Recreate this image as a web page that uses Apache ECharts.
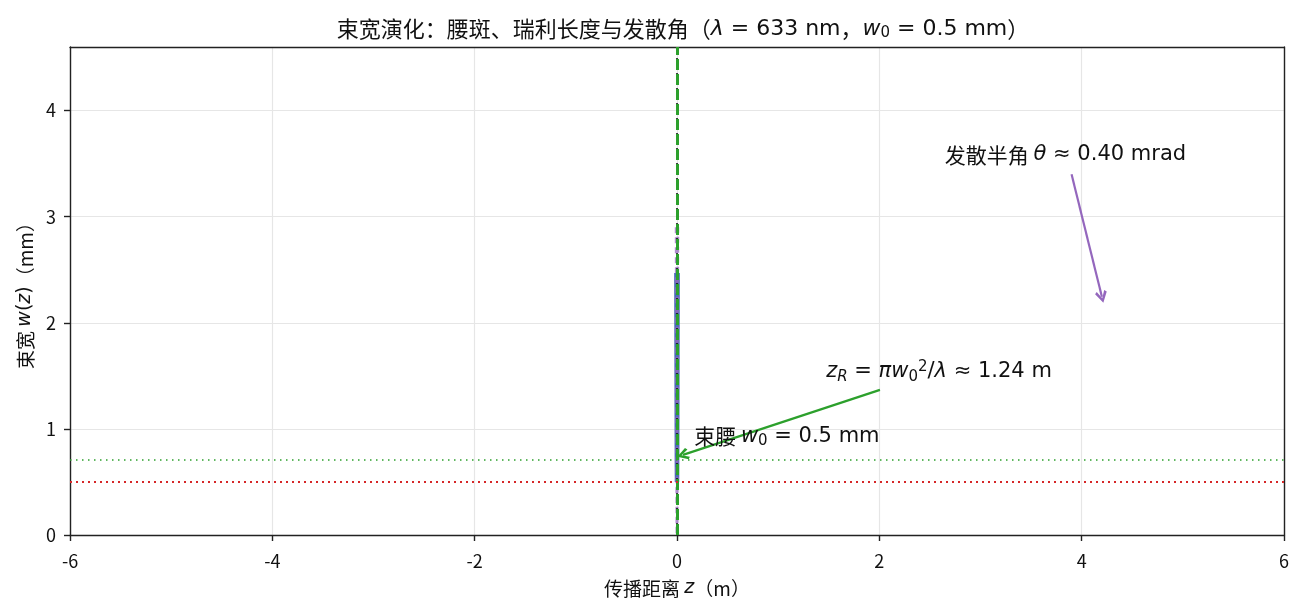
<!DOCTYPE html>
<html lang="zh">
<head>
    <meta charset="UTF-8">
    <title>束宽演化</title>
    <style>
        html, body { margin: 0; padding: 0; background: #fff; }
        #app { width: 1305px; height: 615px; }
    </style>
</head>
<body>
    <div id="app"></div>
    <script src="https://cdn.jsdelivr.net/npm/echarts@6/dist/echarts.min.js"></script>
    <script>
        // 束宽曲线 (z 轴数据实际挤在 0 附近)
        const zBeam = [-0.006, -0.005, -0.004, -0.003, -0.002, -0.001, 0, 0.001, 0.002, 0.003, 0.004, 0.005, 0.006];
        const wBeam = [2.47, 2.08, 1.69, 1.31, 0.95, 0.64, 0.50, 0.64, 0.95, 1.31, 1.69, 2.08, 2.47];
        // 远场渐近线
        const zAsym = [-0.0072, 0, 0.0072];
        const wAsym = [2.90, 0, 2.90];
        // 参考线
        const waistZ = 0;
        const rayleighZ = [-0.00124, 0.00124];
        const waistW = 0.5;
        const rayleighW = 0.707;
        const yTicks = [0, 1, 2, 3, 4];
        // 标注: [文字x, 文字y], 箭头 [起点, 终点]
        const waistLabelPos = [0.17, 0.93];
        const zrLabelPos = [2.59, 1.54];
        const zrArrow = [[2.006, 1.368], [0.059, 0.755]];
        const thetaLabelPos = [3.84, 3.585];
        const thetaArrow = [[3.90, 3.40], [4.20, 2.245]];

        const cjk = '"Noto Sans CJK SC", "Noto Sans", sans-serif';
        const mix = '"DejaVu Sans", "Noto Sans CJK SC", sans-serif';
        const ink = '#111';
        const annSize = 21;
        const nameSize = 19;
        const richBase = {
            n: { fontSize: annSize, fontFamily: mix, color: ink },
            c: { fontSize: annSize, fontFamily: cjk, color: ink },
            i: { fontSize: annSize, fontFamily: mix, color: ink, fontStyle: 'italic' },
            sub: { fontSize: 15, fontFamily: mix, color: ink, padding: [10, 0, 0, 0] },
            subi: { fontSize: 15, fontFamily: mix, color: ink, fontStyle: 'italic', padding: [10, 0, 0, 0] },
            sup: { fontSize: 15, fontFamily: mix, color: ink, padding: [0, 0, 10, 0] }
        };
        // 开口箭头
        const openArrow = 'path://M5,0 L10,8.4 L8.2,10 L5,3.8 L1.8,10 L0,8.4 Z';

        const myChart = echarts.init(document.getElementById('app'));

        function textPoint(pos, text, align) {
            return {
                type: 'scatter',
                data: [pos],
                symbolSize: 0,
                silent: true,
                z: 10,
                itemStyle: { opacity: 1 },
                label: {
                    show: true,
                    position: 'inside',
                    align: align,
                    verticalAlign: 'middle',
                    color: ink,
                    textBorderWidth: 0,
                    opacity: 1,
                    formatter: text,
                    rich: richBase
                }
            };
        }

        function arrow(pts, color) {
            return {
                type: 'line',
                data: [],
                silent: true,
                markLine: {
                    silent: true,
                    symbol: ['none', openArrow],
                    symbolSize: [12, 12],
                    label: { show: false },
                    itemStyle: { color: color },
                    lineStyle: { color: color, width: 2.2, type: 'solid' },
                    data: [[{ coord: pts[0] }, { coord: pts[1] }]]
                }
            };
        }

        const options = {
            animation: false,
            backgroundColor: '#fff',
            title: {
                text: '{c|束宽演化：腰斑、瑞利长度与发散角（}{i|λ}{n| = 633 nm}{c|，}{i|w}{sub|0}{n| = 0.5 mm}{c|）}',
                left: 678,
                textAlign: 'center',
                top: 12,
                textStyle: {
                    fontSize: 22,
                    fontWeight: 'normal',
                    fontFamily: cjk,
                    color: ink,
                    rich: {
                        c: { fontSize: 22, fontFamily: cjk, color: ink },
                        n: { fontSize: 22, fontFamily: mix, color: ink },
                        i: { fontSize: 22, fontStyle: 'italic', fontFamily: mix, color: ink },
                        sub: { fontSize: 15, fontFamily: mix, color: ink, padding: [9, 0, 0, 0] }
                    }
                }
            },
            grid: { left: 70, right: 21, top: 47, bottom: 80 },
            xAxis: [{
                type: 'value',
                min: -6, max: 6, interval: 2,
                name: '{n|传播距离 }{i|z}{n|（m）}',
                nameLocation: 'middle',
                nameGap: 44,
                nameTextStyle: {
                    rich: {
                        n: { fontSize: nameSize, fontFamily: cjk, color: ink },
                        i: { fontSize: nameSize, fontFamily: mix, color: ink, fontStyle: 'italic' }
                    }
                },
                axisLine: { onZero: false, lineStyle: { color: '#222', width: 1.4 } },
                axisTick: { show: true, length: 6, lineStyle: { color: '#222', width: 1.4 } },
                axisLabel: { fontSize: 18, fontFamily: cjk, color: ink, margin: 17 },
                splitLine: { show: true, lineStyle: { color: '#e6e6e6', width: 1.2 } }
            }, {
                type: 'value', position: 'top',
                min: -6, max: 6,
                axisLine: { show: true, onZero: false, lineStyle: { color: '#222', width: 1.4 } },
                axisTick: { show: false }, axisLabel: { show: false }, splitLine: { show: false }
            }],
            yAxis: [{
                type: 'value',
                position: 'left',
                min: 0, max: 4.6, interval: 1,
                name: '{n|束宽 }{i|w}{m|(}{i|z}{m|)}{n|（mm）}',
                nameLocation: 'middle',
                nameGap: 35,
                nameRotate: 90,
                nameTextStyle: {
                    rich: {
                        n: { fontSize: nameSize, fontFamily: cjk, color: ink },
                        m: { fontSize: nameSize, fontFamily: mix, color: ink },
                        i: { fontSize: nameSize, fontFamily: mix, color: ink, fontStyle: 'italic' }
                    }
                },
                axisLine: { show: true, onZero: false, lineStyle: { color: '#222', width: 1.4 } },
                axisTick: { show: true, length: 6, customValues: yTicks, lineStyle: { color: '#222', width: 1.4 } },
                axisLabel: { fontSize: 18, fontFamily: cjk, color: ink, margin: 14, customValues: yTicks },
                splitLine: { show: true, lineStyle: { color: '#e6e6e6', width: 1.2 } }
            }, {
                type: 'value', position: 'right',
                min: 0, max: 4.6,
                axisLine: { show: true, onZero: false, lineStyle: { color: '#222', width: 1.4 } },
                axisTick: { show: false }, axisLabel: { show: false }, splitLine: { show: false }
            }],
            series: [
                {
                    name: '束宽',
                    type: 'line',
                    data: zBeam.map((z, k) => [z, wBeam[k]]),
                    showSymbol: false,
                    lineStyle: { color: '#4a6bb8', width: 4.5 },
                    z: 3
                },
                {
                    name: '渐近线',
                    type: 'line',
                    data: zAsym.map((z, k) => [z, wAsym[k]]),
                    showSymbol: false,
                    lineStyle: { color: '#9467bd', width: 3, type: [6, 4], opacity: 0.75 },
                    z: 4
                },
                {
                    name: '参考线',
                    type: 'line',
                    data: [],
                    markLine: {
                        silent: true,
                        symbol: 'none',
                        label: { show: false },
                        data: [
                            { xAxis: waistZ, lineStyle: { color: '#111', width: 1.6, type: [2, 3] } },
                            { xAxis: rayleighZ[0], lineStyle: { color: '#2ca02c', width: 3, type: [11, 4] } },
                            { xAxis: rayleighZ[1], lineStyle: { color: '#2ca02c', width: 3, type: [11, 4] } },
                            { yAxis: waistW, lineStyle: { color: '#d62728', width: 2, type: [2, 4] } },
                            { yAxis: rayleighW, lineStyle: { color: '#2ca02c', width: 1.5, type: [1.5, 4.5] } }
                        ]
                    },
                    z: 5
                },
                arrow(zrArrow, '#2ca02c'),
                arrow(thetaArrow, '#9467bd'),
                textPoint(waistLabelPos, '{c|束腰 }{i|w}{sub|0}{n| = 0.5 mm}', 'left'),
                textPoint(zrLabelPos, '{i|z}{subi|R}{n| = }{i|πw}{sub|0}{sup|2}{n|/}{i|λ}{n| ≈ 1.24 m}', 'center'),
                textPoint(thetaLabelPos, '{c|发散半角 }{i|θ}{n| ≈ 0.40 mrad}', 'center')
            ]
        };
        myChart.setOption(options);
    </script>
</body>
</html>
